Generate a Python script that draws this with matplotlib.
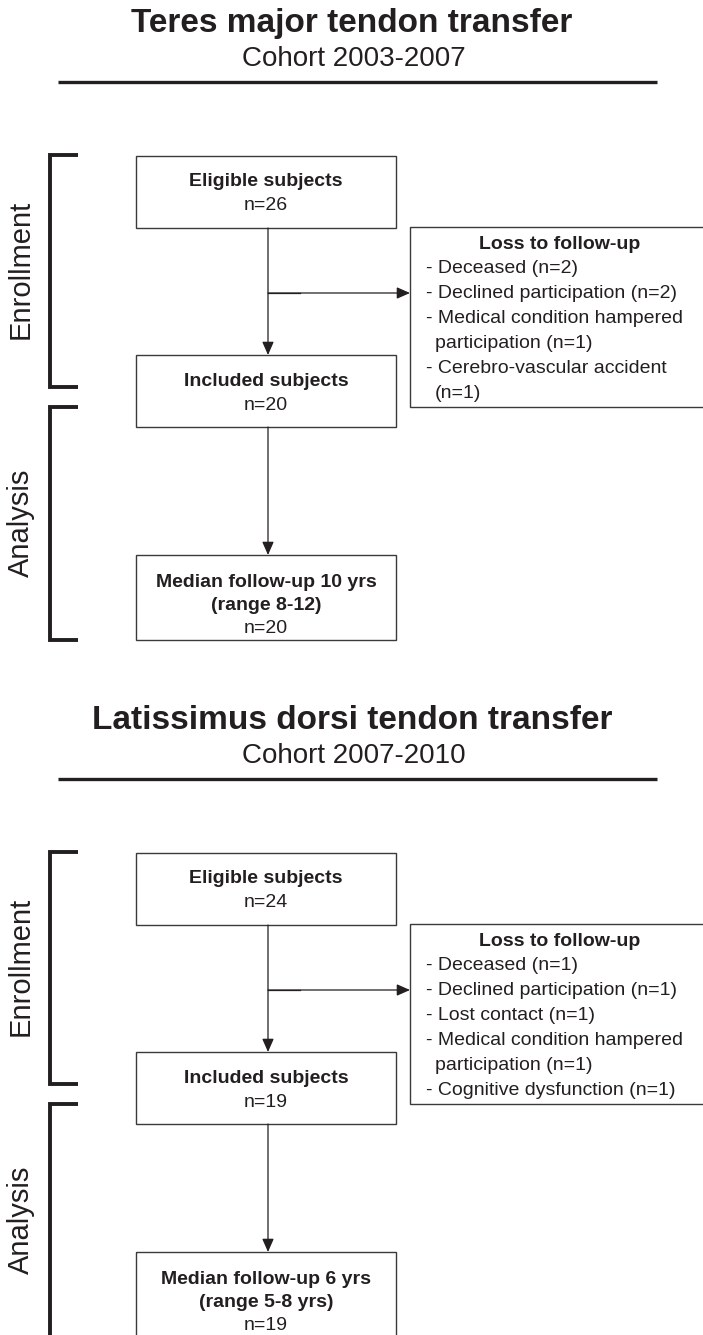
import matplotlib
matplotlib.use("Agg")
import matplotlib.pyplot as plt
from matplotlib.patches import Rectangle

plt.rcParams['font.family'] = ['Liberation Sans', 'DejaVu Sans']

# ---- data ----
titles = ["Teres major tendon transfer", "Latissimus dorsi tendon transfer"]
cohorts = ["Cohort 2003-2007", "Cohort 2007-2010"]
eligible_n = [26, 24]
included_n = [20, 19]
median_lines = [["Median follow-up 10 yrs", "(range 8-12)"],
                ["Median follow-up 6 yrs", "(range 5-8 yrs)"]]
final_n = [20, 19]
loss_items = [
    [("- Deceased (n=2)", 0), ("- Declined participation (n=2)", 0),
     ("- Medical condition hampered", 0), ("participation (n=1)", 1),
     ("- Cerebro-vascular accident", 0), ("(n=1)", 1)],
    [("- Deceased (n=1)", 0), ("- Declined participation (n=1)", 0),
     ("- Lost contact (n=1)", 0), ("- Medical condition hampered", 0),
     ("participation (n=1)", 1), ("- Cognitive dysfunction (n=1)", 0)],
]
phase_labels = ["Enrollment", "Analysis"]
panel_offsets = [0, 697]

W, H = 703, 1335
C = '#231f20'
BOX = '#3a3a3a'

fig = plt.figure(figsize=(W / 100, H / 100), dpi=100)
ax = fig.add_axes([0, 0, 1, 1])
ax.set_xlim(0, W)
ax.set_ylim(H, 0)
ax.axis('off')


def box(x0, y0, x1, y1):
    ax.add_patch(Rectangle((x0, y0), x1 - x0, y1 - y0, fill=False,
                           edgecolor=BOX, lw=1.0, clip_on=True))


def arrow(x0, y0, x1, y1):
    ax.annotate("", xy=(x1, y1), xytext=(x0, y0),
                arrowprops=dict(arrowstyle='-|>,head_length=0.5,head_width=0.22',
                                mutation_scale=16, lw=0.9, color=C,
                                shrinkA=0, shrinkB=0))


for p in range(2):
    o = panel_offsets[p]
    # title block
    ax.text(352, 32 + o, titles[p], ha='center', va='baseline',
            fontsize=24, fontweight='bold', color=C)
    ax.text(354, 66 + o, cohorts[p], ha='center', va='baseline',
            fontsize=20, color=C)
    ax.plot([58, 657], [82 + o, 82 + o], color=C, lw=2.4,
            solid_capstyle='butt')

    # brackets
    for (ya, yb) in [(155, 387), (407, 640)]:
        ax.plot([78, 50, 50, 78], [ya + o, ya + o, yb + o, yb + o],
                color=C, lw=2.8, solid_joinstyle='miter',
                solid_capstyle='butt')
    ax.text(21, 269 + o, phase_labels[0], rotation=90, ha='center',
            va='center', fontsize=21, color=C)
    ax.text(21, 523 + o, phase_labels[1], rotation=90, ha='center',
            va='center', fontsize=21, color=C)

    cx = 266
    # eligible
    box(136, 156 + o, 396, 228 + o)
    ax.text(cx, 186 + o, "Eligible subjects", ha='center', va='baseline',
            fontsize=14, fontweight='bold', color=C)
    ax.text(cx, 210 + o, f"n={eligible_n[p]}", ha='center', va='baseline',
            fontsize=14, color=C)

    # included
    box(136, 355 + o, 396, 427 + o)
    ax.text(cx, 386 + o, "Included subjects", ha='center', va='baseline',
            fontsize=14, fontweight='bold', color=C)
    ax.text(cx, 410 + o, f"n={included_n[p]}", ha='center', va='baseline',
            fontsize=14, color=C)

    # median
    box(136, 555 + o, 396, 640 + o)
    ax.text(cx, 587 + o, median_lines[p][0], ha='center', va='baseline',
            fontsize=14, fontweight='bold', color=C)
    ax.text(cx, 610 + o, median_lines[p][1], ha='center', va='baseline',
            fontsize=14, fontweight='bold', color=C)
    ax.text(cx, 633 + o, f"n={final_n[p]}", ha='center', va='baseline',
            fontsize=14, color=C)

    # arrows
    arrow(268, 228 + o, 268, 355 + o)
    ax.plot([268, 300], [293 + o, 293 + o], color=C, lw=0.9)
    arrow(268, 293 + o, 410, 293 + o)
    arrow(268, 427 + o, 268, 555 + o)

    # loss box
    box(410, 227 + o, 706, 407 + o)
    ax.text(560, 249 + o, "Loss to follow-up", ha='center', va='baseline',
            fontsize=14, fontweight='bold', color=C)
    for i, (txt, indent) in enumerate(loss_items[p]):
        ax.text(435 if indent else 426, 273 + 25 * i + o, txt, ha='left',
                va='baseline', fontsize=14, color=C)

fig.savefig("out.png", dpi=100)
